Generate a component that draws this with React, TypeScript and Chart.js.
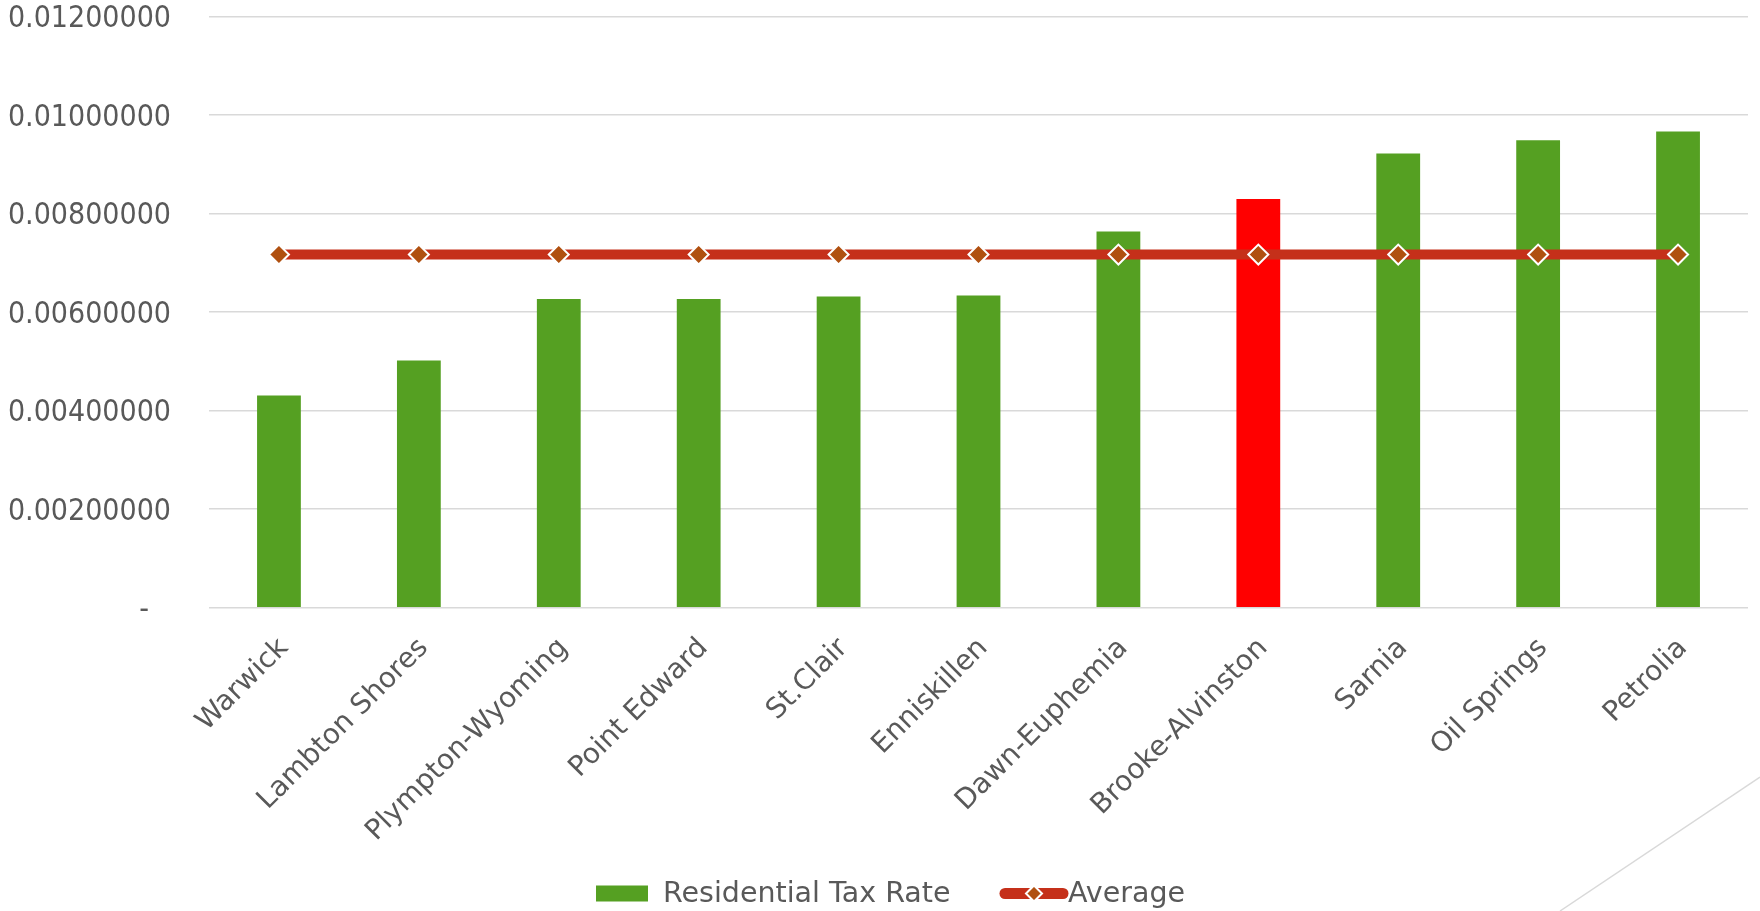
import { useEffect, useRef } from 'react';
import { Chart, registerables } from 'chart.js';

Chart.register(...registerables);

// ---- data ----
const categories = [
  'Warwick',
  'Lambton Shores',
  'Plympton-Wyoming',
  'Point Edward',
  'St.Clair',
  'Enniskillen',
  'Dawn-Euphemia',
  'Brooke-Alvinston',
  'Sarnia',
  'Oil Springs',
  'Petrolia',
];
const residentialTaxRate = [
  0.00431, 0.00502, 0.00627, 0.00627, 0.00632, 0.00634, 0.00764, 0.0083, 0.00922, 0.00949, 0.00967,
];
const averageRate = [
  0.00717, 0.00717, 0.00717, 0.00717, 0.00717, 0.00717, 0.00717, 0.00717, 0.00717, 0.00717, 0.00717,
];
const yTickLabels = ['-', '0.00200000', '0.00400000', '0.00600000', '0.00800000', '0.01000000', '0.01200000'];
const seriesNames = ['Residential Tax Rate', 'Average'];
const highlightedCategory = 'Brooke-Alvinston';

// ---- styles ----
const FONT = "'DejaVu Sans', sans-serif";
const FONT_COND = "'DejaVu Sans Condensed', 'DejaVu Sans', sans-serif";
const TEXT = '#595959';
const GRID = '#D9D9D9';
const GREEN = '#55A022';
const RED = '#FF0000';
const LINE = '#C5301A';
const MARKER = '#B05010';

const W = 1760;
const H = 911;

const legendPlugin = {
  id: 'excelLegend',
  afterDraw(chart: any) {
    const ctx = chart.ctx as CanvasRenderingContext2D;
    const ds = chart.data.datasets;
    const bar = ds.find((d: any) => d.type === 'bar');
    const line = ds.find((d: any) => d.type === 'line');
    ctx.save();
    ctx.font = `28.5px ${FONT}`;
    ctx.textBaseline = 'alphabetic';
    const cy = 893.5;
    const base = 902;
    // bar swatch
    ctx.fillStyle = GREEN;
    ctx.fillRect(596, cy - 8, 52, 16);
    ctx.fillStyle = TEXT;
    ctx.fillText(bar.label, 663, base);
    // line swatch
    ctx.strokeStyle = line.borderColor;
    ctx.lineWidth = 11;
    ctx.lineCap = 'round';
    ctx.beginPath();
    ctx.moveTo(1005, cy);
    ctx.lineTo(1063, cy);
    ctx.stroke();
    const mx = 1034;
    const r = 8;
    ctx.beginPath();
    ctx.moveTo(mx, cy - r);
    ctx.lineTo(mx + r, cy);
    ctx.lineTo(mx, cy + r);
    ctx.lineTo(mx - r, cy);
    ctx.closePath();
    ctx.fillStyle = line.pointBackgroundColor;
    ctx.fill();
    ctx.lineWidth = 2;
    ctx.lineCap = 'butt';
    ctx.strokeStyle = '#FFFFFF';
    ctx.stroke();
    ctx.fillStyle = TEXT;
    ctx.fillText(line.label, 1068, base);
    ctx.restore();
  },
};

const cornerLinePlugin = {
  id: 'cornerLine',
  afterDraw(chart: any) {
    const ctx = chart.ctx as CanvasRenderingContext2D;
    ctx.save();
    ctx.strokeStyle = GRID;
    ctx.lineWidth = 1.5;
    ctx.beginPath();
    ctx.moveTo(1560, H);
    ctx.lineTo(W, 777);
    ctx.stroke();
    ctx.restore();
  },
};

export default function App() {
  const ref = useRef<HTMLCanvasElement | null>(null);

  useEffect(() => {
    const canvas = ref.current;
    if (!canvas) return;
    const chart = new Chart(canvas, {
      type: 'bar',
      data: {
        labels: categories,
        datasets: [
          {
            type: 'line',
            label: seriesNames[1],
            data: averageRate,
            borderColor: LINE,
            borderWidth: 10,
            pointStyle: 'rectRot',
            pointRadius: 10,
            pointBackgroundColor: MARKER,
            pointBorderColor: '#FFFFFF',
            pointBorderWidth: 2,
            tension: 0,
            order: 0,
          } as any,
          {
            type: 'bar',
            label: seriesNames[0],
            data: residentialTaxRate,
            backgroundColor: categories.map((c) => (c === highlightedCategory ? RED : GREEN)),
            borderWidth: 0,
            categoryPercentage: 1,
            barPercentage: 0.313,
            order: 1,
          } as any,
        ],
      },
      options: {
        responsive: false,
        animation: false,
        events: [],
        layout: { padding: { left: 9, right: 3, top: 16.7, bottom: 0 } },
        plugins: {
          legend: { display: false },
          tooltip: { enabled: false },
          title: { display: false },
        },
        scales: {
          x: {
            grid: { display: false, drawTicks: false },
            border: { display: false },
            ticks: {
              autoSkip: false,
              maxRotation: 45,
              minRotation: 45,
              padding: 26,
              labelOffset: 5,
              color: TEXT,
              font: { family: FONT, size: 28, lineHeight: 1 },
            },
            afterFit: (s: any) => {
              s.height = H - 607.7;
            },
          },
          y: {
            min: 0,
            max: 0.012,
            grid: { color: GRID, lineWidth: 1.5, drawTicks: false },
            border: { display: false },
            ticks: {
              stepSize: 0.002,
              padding: 38,
              labelOffset: 3,
              color: TEXT,
              font: { family: FONT_COND, size: 30, lineHeight: 1 },
              callback: (_v: any, i: number) => (i === 0 ? yTickLabels[0] + '\u2002 ' : yTickLabels[i]),
            },
            afterFit: (s: any) => {
              s.width = 200;
              s.paddingTop = 0;
              s.paddingBottom = 0;
            },
          },
        },
      },
      plugins: [legendPlugin, cornerLinePlugin],
    });
    return () => chart.destroy();
  }, []);

  return (
    <div style={{ position: 'fixed', left: 0, top: 0, width: W, height: H, background: '#FFFFFF' }}>
      <canvas ref={ref} width={W} height={H} style={{ display: 'block', width: W, height: H }} />
    </div>
  );
}
